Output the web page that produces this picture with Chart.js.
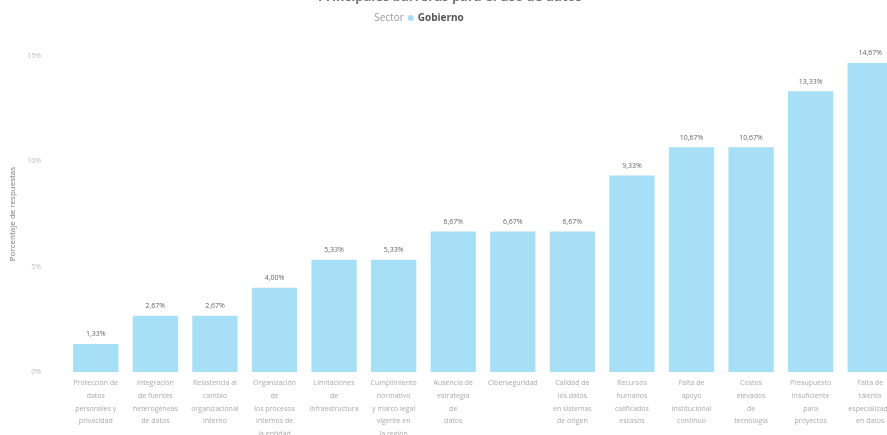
<!DOCTYPE html>
<html lang="es">
<head>
    <meta charset="UTF-8">
    <title>Sector Gobierno</title>
    <script src="https://cdn.jsdelivr.net/npm/chart.js"></script>
    <style>
        html, body {
            margin: 0;
            padding: 0;
            background: #ffffff;
            overflow: hidden;
            width: 887px;
            height: 435px;
        }
        #chartBox {
            position: absolute;
            left: 0;
            top: 0;
            width: 900px;
            height: 435px;
        }
    </style>
</head>
<body>
    <div id="chartBox">
        <canvas id="barChart" width="900" height="435"></canvas>
    </div>

    <script>
        // datos del grafico
        const chartTitle = 'Principales barreras para el uso de datos';
        const legendName = 'Sector';
        const legendValue = 'Gobierno';
        const yAxisTitle = 'Porcentaje de respuestas';

        const categories = [
            ['Protección de', 'datos', 'personales y', 'privacidad'],
            ['Integración', 'de fuentes', 'heterogéneas', 'de datos'],
            ['Resistencia al', 'cambio', 'organizacional', 'interno'],
            ['Organización', 'de', 'los procesos', 'internos de', 'la entidad'],
            ['Limitaciones', 'de', 'infraestructura'],
            ['Cumplimiento', 'normativo', 'y marco legal', 'vigente en', 'la región'],
            ['Ausencia de', 'estrategia', 'de', 'datos'],
            ['Ciberseguridad'],
            ['Calidad de', 'los datos', 'en sistemas', 'de origen'],
            ['Recursos', 'humanos', 'calificados', 'escasos'],
            ['Falta de', 'apoyo', 'institucional', 'continuo'],
            ['Costos', 'elevados', 'de', 'tecnología'],
            ['Presupuesto', 'insuficiente', 'para', 'proyectos'],
            ['Falta de', 'talento', 'especializado', 'en datos']
        ];

        const shares = [1.33, 2.67, 2.67, 4.00, 5.33, 5.33, 6.67, 6.67, 6.67, 9.33, 10.67, 10.67, 13.33, 14.67];

        const yTicks = [0, 5, 10, 15];

        function pct(v) {
            return v.toFixed(2).replace('.', ',') + '%';
        }

        // etiquetas encima de las barras + titulo y leyenda
        const decorPlugin = {
            id: 'decor',
            afterDatasetsDraw(chart) {
                const ctx = chart.ctx;
                const meta = chart.getDatasetMeta(0);
                ctx.save();
                ctx.font = '7px "Open Sans", sans-serif';
                ctx.fillStyle = '#666';
                ctx.textAlign = 'center';
                ctx.textBaseline = 'bottom';
                meta.data.forEach(function(bar, i) {
                    ctx.fillText(pct(shares[i]), bar.x, bar.y - 6);
                });
                ctx.restore();
            },
            afterDraw(chart) {
                const ctx = chart.ctx;
                ctx.save();
                ctx.textBaseline = 'alphabetic';
                ctx.textAlign = 'center';
                ctx.font = 'bold 13px "Open Sans", sans-serif';
                ctx.fillStyle = '#777';
                ctx.fillText(chartTitle, 450, 1);

                ctx.textBaseline = 'middle';
                ctx.textAlign = 'left';
                ctx.font = '10px "Open Sans", sans-serif';
                const w1 = ctx.measureText(legendName).width;
                ctx.font = 'bold 10px "Open Sans", sans-serif';
                const w2 = ctx.measureText(legendValue).width;
                const total = w1 + 14 + w2;
                let x = 419 - total / 2;
                ctx.font = '10px "Open Sans", sans-serif';
                ctx.fillStyle = '#9a9a9a';
                ctx.fillText(legendName, x, 18);
                x += w1 + 7;
                ctx.fillStyle = '#a5def5';
                ctx.beginPath();
                ctx.arc(x, 18, 3, 0, Math.PI * 2);
                ctx.fill();
                x += 7;
                ctx.font = 'bold 10px "Open Sans", sans-serif';
                ctx.fillStyle = '#555';
                ctx.fillText(legendValue, x, 18);
                ctx.restore();
            }
        };

        const ctx = document.getElementById('barChart').getContext('2d');
        const barChart = new Chart(ctx, {
            type: 'bar',
            data: {
                labels: categories,
                datasets: [{
                    label: legendValue,
                    data: shares,
                    backgroundColor: '#a7dff6',
                    borderWidth: 0,
                    barPercentage: 0.76,
                    categoryPercentage: 1.0
                }]
            },
            options: {
                responsive: false,
                animation: false,
                layout: {
                    padding: { top: 56, left: 0, right: 0, bottom: 0 }
                },
                plugins: {
                    legend: { display: false },
                    tooltip: { enabled: false }
                },
                scales: {
                    x: {
                        afterFit(axis) { axis.height = 63; },
                        grid: { display: false, drawTicks: false },
                        border: { display: false },
                        ticks: {
                            autoSkip: false,
                            maxRotation: 0,
                            minRotation: 0,
                            padding: 5,
                            color: '#aaa',
                            font: { size: 7, family: '"Open Sans", sans-serif', lineHeight: 1.8 }
                        }
                    },
                    y: {
                        min: 0,
                        max: 15,
                        afterBuildTicks(axis) {
                            axis.ticks = yTicks.map(function(v) { return { value: v }; });
                        },
                        afterFit(axis) { axis.width = 66; },
                        grid: { display: false, drawTicks: false },
                        border: { display: false },
                        title: {
                            display: true,
                            text: yAxisTitle,
                            color: '#777',
                            font: { size: 8, family: '"Open Sans", sans-serif' },
                            padding: { top: 8, bottom: 0 }
                        },
                        ticks: {
                            padding: 25,
                            color: '#bbb',
                            font: { size: 7, family: '"Open Sans", sans-serif' },
                            callback: function(v) { return v + '%'; }
                        }
                    }
                }
            },
            plugins: [decorPlugin]
        });
    </script>
</body>
</html>
